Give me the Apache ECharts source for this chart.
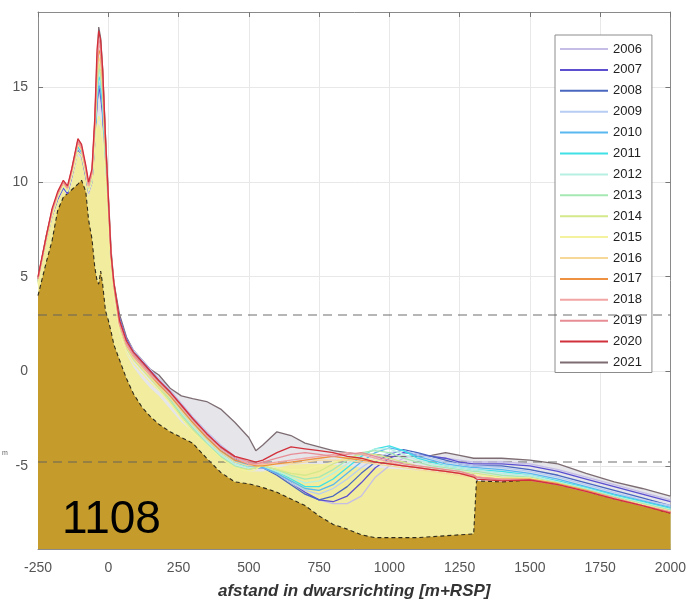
<!DOCTYPE html>
<html><head><meta charset="utf-8">
<script src="https://cdn.jsdelivr.net/npm/echarts@6/dist/echarts.min.js"></script>
<style>html,body{margin:0;padding:0;background:#fff}#c{width:689px;height:609px}</style>
</head><body><div id="c"></div>
<script>
// x positions (m+RSP) shared by all profiles
const xs = [-250,-220,-200,-180,-160,-145,-130,-108,-95,-80,-70,-58,-48,-40,-34,-27,-20,-10,0,10,20,
  40,65,90,120,150,180,220,260,300,350,400,450,500,525,
  550,600,650,700,750,800,850,900,950,1000,1050,1100,1150,1200,1250,1300,1310,
  1400,1500,1600,1700,1800,1900,2000];

const years = ['2006','2007','2008','2009','2010','2011','2012','2013','2014','2015','2016','2017','2018','2019','2020','2021'];
const yearColors = ['#c5bde6','#5b4fd0','#4a67c0','#b7cdf2','#5ab7ef','#3fe0e6','#b5f0e2','#a6e8b4','#d5e88a','#f4f29c','#f6d999','#ee9140','#f2a5a5','#e88d96','#d2303a','#7d6d72'];

const y2006 = [4.7,6.9,8.2,9.1,9.7,9.4,10.2,11.6,11.3,10.3,9.4,10.0,12.0,14.0,14.8,14.4,13.4,10.8,8.2,5.7,4.2,
  2.8,1.7,1.1,0.6,0.1,-0.4,-1.0,-1.7,-2.4,-3.2,-3.9,-4.5,-4.9,-5.0,
  -5.1,-5.4,-5.9,-6.4,-6.8,-7.0,-7.0,-6.6,-5.6,-5.0,-4.6,-4.4,-4.5,-4.6,-4.7,-4.8,-4.8,
  -4.8,-4.9,-5.2,-5.6,-6.0,-6.4,-6.8];
const y2007 = [4.8,7.0,8.2,9.1,9.7,9.4,10.3,11.7,11.4,10.3,9.5,10.0,12.1,14.2,15.0,14.6,13.6,11.0,8.3,5.7,4.3,
  2.8,1.7,1.0,0.5,0.0,-0.5,-1.1,-1.8,-2.5,-3.3,-4.0,-4.6,-5.0,-5.1,
  -5.1,-5.4,-5.9,-6.4,-6.8,-6.9,-6.6,-5.9,-5.1,-4.6,-4.3,-4.4,-4.5,-4.6,-4.8,-4.9,-4.9,
  -4.9,-5.0,-5.3,-5.7,-6.1,-6.5,-6.9];
const y2008 = [4.9,7.0,8.3,9.2,9.8,9.5,10.3,11.8,11.5,10.4,9.5,10.1,12.2,14.3,15.2,14.8,13.8,11.1,8.4,5.8,4.3,
  2.7,1.6,1.0,0.5,0.0,-0.5,-1.2,-1.9,-2.6,-3.4,-4.0,-4.6,-5.0,-5.1,
  -5.1,-5.5,-6.0,-6.5,-6.8,-6.6,-6.1,-5.4,-4.8,-4.4,-4.15,-4.3,-4.5,-4.7,-4.9,-5.0,-5.0,
  -5.0,-5.2,-5.5,-5.9,-6.3,-6.7,-7.1];
const y2009 = [4.8,7.0,8.3,9.2,9.8,9.5,10.4,11.8,11.5,10.4,9.5,10.1,12.3,14.5,15.3,15.0,14.0,11.2,8.5,5.8,4.3,
  2.7,1.6,1.0,0.4,-0.1,-0.6,-1.2,-1.9,-2.6,-3.4,-4.1,-4.7,-5.0,-5.1,
  -5.1,-5.4,-5.9,-6.3,-6.5,-6.2,-5.7,-5.1,-4.6,-4.3,-4.2,-4.4,-4.6,-4.8,-4.9,-5.0,-5.0,
  -5.1,-5.3,-5.6,-6.0,-6.4,-6.8,-7.1];
const y2010 = [4.9,7.1,8.3,9.2,9.8,9.5,10.4,11.9,11.6,10.5,9.6,10.2,12.3,14.4,15.1,14.9,14.0,11.2,8.5,5.8,4.4,
  2.6,1.5,0.9,0.4,-0.1,-0.6,-1.3,-2.0,-2.7,-3.5,-4.2,-4.7,-5.0,-5.1,
  -5.1,-5.4,-5.8,-6.2,-6.3,-6.0,-5.4,-4.8,-4.3,-4.05,-4.2,-4.5,-4.7,-4.9,-5.0,-5.1,-5.1,
  -5.2,-5.4,-5.7,-6.1,-6.5,-6.85,-7.2];
const y2011 = [4.8,7.0,8.3,9.3,9.8,9.5,10.4,11.9,11.6,10.5,9.6,10.2,12.4,14.8,15.6,15.3,14.3,11.4,8.6,5.9,4.3,
  2.6,1.5,0.9,0.3,-0.2,-0.7,-1.4,-2.1,-2.8,-3.6,-4.3,-4.8,-5.1,-5.1,
  -5.0,-5.3,-5.7,-6.1,-6.1,-5.7,-5.1,-4.5,-4.1,-3.95,-4.2,-4.6,-4.8,-5.0,-5.1,-5.2,-5.2,
  -5.3,-5.5,-5.8,-6.15,-6.55,-6.9,-7.25];
const y2012 = [4.8,7.0,8.4,9.3,9.9,9.6,10.5,12.0,11.7,10.6,9.7,10.3,12.5,15.0,15.9,15.5,14.5,11.5,8.7,5.9,4.4,
  2.5,1.4,0.8,0.3,-0.2,-0.7,-1.4,-2.2,-2.9,-3.7,-4.4,-4.9,-5.1,-5.1,
  -5.0,-5.3,-5.6,-5.9,-5.8,-5.4,-4.9,-4.4,-4.1,-4.1,-4.4,-4.7,-4.9,-5.0,-5.1,-5.2,-5.2,
  -5.4,-5.5,-5.85,-6.2,-6.6,-6.95,-7.3];
const y2013 = [4.8,7.1,8.4,9.3,9.9,9.6,10.5,12.0,11.7,10.6,9.7,10.3,12.6,15.2,16.1,15.7,14.7,11.6,8.7,6.0,4.4,
  2.4,1.3,0.7,0.2,-0.3,-0.8,-1.5,-2.3,-3.0,-3.8,-4.5,-5.0,-5.2,-5.1,
  -5.0,-5.2,-5.5,-5.7,-5.6,-5.2,-4.7,-4.3,-4.2,-4.3,-4.6,-4.8,-5.0,-5.1,-5.2,-5.3,-5.3,
  -5.5,-5.6,-5.9,-6.25,-6.65,-7.0,-7.35];
const y2014 = [4.7,7.0,8.3,9.3,9.9,9.6,10.5,12.0,11.7,10.6,9.7,10.3,12.6,15.3,16.3,15.9,14.8,11.7,8.8,6.0,4.4,
  2.3,1.2,0.6,0.1,-0.4,-0.9,-1.6,-2.4,-3.1,-3.9,-4.6,-5.1,-5.2,-5.1,
  -5.0,-5.2,-5.4,-5.5,-5.3,-4.9,-4.6,-4.4,-4.4,-4.6,-4.8,-5.0,-5.1,-5.2,-5.3,-5.4,-5.4,
  -5.6,-5.65,-5.9,-6.3,-6.7,-7.05,-7.4];
const y2015 = [4.6,6.9,8.2,9.2,9.8,9.5,10.3,11.6,11.4,10.4,9.5,10.0,11.9,13.0,13.5,13.2,12.5,10.2,7.6,5.3,4.0,
  2.1,1.0,0.4,-0.1,-0.6,-1.0,-1.7,-2.5,-3.2,-3.9,-4.6,-5.1,-5.3,-5.2,
  -4.9,-5.1,-5.2,-5.2,-5.0,-4.8,-4.6,-4.6,-4.7,-4.8,-5.0,-5.1,-5.2,-5.3,-5.4,-5.5,-5.5,
  -5.65,-5.65,-5.95,-6.3,-6.7,-7.05,-7.4];
const y2016 = [4.8,7.1,8.4,9.3,9.9,9.6,10.5,12.0,11.7,10.6,9.7,10.4,12.8,15.6,16.6,16.3,15.1,11.9,8.9,6.0,4.5,
  2.4,1.3,0.7,0.2,-0.3,-0.8,-1.4,-2.1,-2.8,-3.6,-4.3,-4.8,-5.0,-5.0,
  -4.9,-4.9,-4.9,-4.8,-4.7,-4.7,-4.7,-4.8,-4.9,-5.0,-5.1,-5.2,-5.3,-5.4,-5.5,-5.6,-5.6,
  -5.7,-5.7,-5.95,-6.3,-6.7,-7.05,-7.4];
const y2017 = [4.9,7.1,8.5,9.4,10.0,9.7,10.6,12.1,11.8,10.7,9.8,10.5,13.0,16.0,17.0,16.7,15.4,12.0,9.0,6.1,4.5,
  2.5,1.4,0.8,0.3,-0.2,-0.7,-1.3,-2.0,-2.7,-3.5,-4.2,-4.7,-4.9,-5.0,
  -5.0,-4.9,-4.8,-4.7,-4.6,-4.5,-4.6,-4.7,-4.8,-4.9,-5.0,-5.1,-5.2,-5.3,-5.4,-5.5,-5.6,
  -5.7,-5.7,-5.95,-6.3,-6.7,-7.1,-7.45];
const y2018 = [4.9,7.1,8.5,9.4,10.0,9.7,10.6,12.1,11.8,10.7,9.8,10.5,13.1,16.3,17.3,17.0,15.6,12.1,9.1,6.1,4.6,
  2.5,1.4,0.8,0.3,-0.2,-0.6,-1.2,-1.9,-2.6,-3.4,-4.1,-4.6,-4.9,-4.9,
  -4.9,-4.8,-4.7,-4.6,-4.5,-4.4,-4.3,-4.4,-4.6,-4.8,-5.0,-5.1,-5.2,-5.3,-5.4,-5.5,-5.6,
  -5.7,-5.75,-6.0,-6.35,-6.7,-7.1,-7.45];
const y2019 = [4.9,7.2,8.5,9.4,10.0,9.7,10.7,12.2,11.9,10.8,9.9,10.6,13.2,16.6,17.6,17.2,15.8,12.2,9.2,6.2,4.6,
  2.6,1.5,0.9,0.4,-0.1,-0.5,-1.1,-1.8,-2.5,-3.3,-4.0,-4.5,-4.8,-4.9,
  -4.8,-4.6,-4.4,-4.3,-4.4,-4.5,-4.4,-4.3,-4.5,-4.7,-4.9,-5.0,-5.1,-5.2,-5.3,-5.5,-5.6,
  -5.75,-5.75,-6.0,-6.35,-6.75,-7.1,-7.45];
const y2020 = [5.0,7.2,8.6,9.5,10.1,9.8,10.7,12.3,12.0,10.9,10.0,10.7,13.4,17.0,18.0,17.5,16.0,12.4,9.3,6.2,4.7,
  2.7,1.6,1.0,0.5,0.0,-0.5,-1.1,-1.8,-2.5,-3.3,-4.0,-4.5,-4.7,-4.8,
  -4.7,-4.3,-4.0,-4.1,-4.2,-4.3,-4.5,-4.6,-4.8,-4.9,-5.0,-5.1,-5.2,-5.3,-5.4,-5.6,-5.7,
  -5.8,-5.75,-6.0,-6.35,-6.75,-7.1,-7.5];
const y2021 = [4.9,7.2,8.5,9.3,9.9,9.6,10.6,12.2,11.8,10.7,9.8,10.4,12.9,15.6,18.2,17.6,16.0,12.5,9.4,6.4,4.7,
  3.0,1.8,1.1,0.6,0.1,-0.2,-0.9,-1.3,-1.45,-1.6,-2.0,-2.7,-3.5,-4.2,
  -3.9,-3.2,-3.4,-3.8,-4.0,-4.2,-4.3,-4.4,-4.4,-4.5,-4.5,-4.5,-4.45,-4.3,-4.45,-4.6,-4.6,
  -4.6,-4.7,-4.9,-5.4,-5.85,-6.2,-6.6];

// lowest (golden) profile and upper edge of the light-yellow zone
const golden = [4.0,5.8,6.9,8.5,9.2,9.4,9.6,9.9,10.1,9.5,8.0,7.0,5.5,4.8,4.6,5.3,4.6,3.2,2.7,2.1,1.4,
  0.6,-0.4,-1.2,-1.9,-2.4,-2.8,-3.2,-3.5,-3.8,-4.6,-5.35,-5.85,-5.95,-6.05,
  -6.15,-6.4,-6.75,-7.1,-7.65,-8.1,-8.35,-8.65,-8.8,-8.8,-8.8,-8.8,-8.75,-8.7,-8.65,-8.6,-5.8,
  -5.85,-5.75,-6.0,-6.35,-6.75,-7.1,-7.5];
const yellowTop = [4.6,6.8,8.0,9.0,9.6,9.3,10.0,11.4,11.2,10.2,9.3,9.8,11.5,12.8,13.1,12.8,12.0,9.8,7.3,5.0,3.7,
  2.0,0.9,0.2,-0.4,-0.9,-1.3,-2.0,-2.7,-3.2,-3.9,-4.5,-5.0,-5.3,-5.3,
  -5.3,-5.1,-4.95,-4.9,-4.9,-4.95,-5.0,-5.1,-5.1,-5.15,-5.2,-5.25,-5.3,-5.35,-5.45,-5.6,-5.8,
  -5.85,-5.75,-6.0,-6.35,-6.75,-7.1,-7.5];

const refLevels = [3, -4.8];
const yTicks = [-5, 0, 5, 10, 15];
const yearValues = [y2006,y2007,y2008,y2009,y2010,y2011,y2012,y2013,y2014,y2015,y2016,y2017,y2018,y2019,y2020,y2021];

const pts = arr => xs.map((x, i) => [x, arr[i]]);
const FONT = '"Liberation Sans", Arial, sans-serif';

const series = [];
series.push({
  name: '2021', type: 'line', data: pts(y2021), symbol: 'none', z: 2,
  lineStyle: {color: yearColors[15], width: 1.3},
  itemStyle: {color: yearColors[15]},
  areaStyle: {color: '#e5e5ea', opacity: 1, origin: 'start'}
});
series.push({
  name: 'zone', type: 'line', data: pts(yellowTop), symbol: 'none', z: 3,
  lineStyle: {width: 0, opacity: 0},
  areaStyle: {color: '#f1ec9e', opacity: 1, origin: 'start'}
});
series.push({
  name: 'base', type: 'line', data: pts(golden), symbol: 'none', z: 4,
  lineStyle: {color: '#2e2a1c', width: 1.1, type: [4, 3]},
  areaStyle: {color: '#c59c2c', opacity: 1, origin: 'start'},
  markLine: {
    silent: true, symbol: 'none', label: {show: false},
    lineStyle: {color: 'rgba(95,95,95,0.6)', width: 1.5, type: [9, 6]},
    data: refLevels.map(v => ({yAxis: v}))
  }
});
for (let k = 0; k < 15; k++) {
  series.push({
    name: years[k], type: 'line', data: pts(yearValues[k]), symbol: 'none', z: 5,
    lineStyle: {color: yearColors[k], width: 1.3},
    itemStyle: {color: yearColors[k]}
  });
}

const axisLineStyle = {show: true, onZero: false, lineStyle: {color: '#8a8a8a'}};
const chart = echarts.init(document.getElementById('c'));
chart.setOption({
  animation: false,
  backgroundColor: '#fff',
  grid: {left: 38, right: 16, top: 12, bottom: 60},
  xAxis: [{
    type: 'value', min: -250, max: 2000, interval: 250, position: 'bottom',
    axisLine: axisLineStyle,
    axisTick: {inside: true, length: 5, lineStyle: {color: '#777'}},
    axisLabel: {color: '#555', fontSize: 14, margin: 12, fontFamily: FONT, formatter: v => String(v)},
    splitLine: {show: true, lineStyle: {color: '#e8e8e8'}},
    name: 'afstand in dwarsrichting [m+RSP]', nameLocation: 'middle', nameGap: 34,
    nameTextStyle: {fontWeight: 'bold', fontStyle: 'italic', fontSize: 17, color: '#333', fontFamily: FONT}
  }, {
    type: 'value', min: -250, max: 2000, interval: 250, position: 'top',
    axisLine: axisLineStyle,
    axisTick: {inside: true, length: 5, lineStyle: {color: '#777'}},
    axisLabel: {show: false}, splitLine: {show: false}
  }],
  yAxis: [{
    type: 'value', min: -9.4, max: 19, position: 'left',
    axisLine: axisLineStyle,
    axisTick: {show: true, inside: true, length: 5, customValues: yTicks, lineStyle: {color: '#777'}},
    axisLabel: {color: '#555', fontSize: 14, margin: 10, fontFamily: FONT, customValues: yTicks},
    splitLine: {show: true, lineStyle: {color: '#e8e8e8'}}
  }, {
    type: 'value', min: -9.4, max: 19, position: 'right',
    axisLine: axisLineStyle,
    axisTick: {show: true, inside: true, length: 5, customValues: yTicks, lineStyle: {color: '#777'}},
    axisLabel: {show: false, customValues: yTicks}, splitLine: {show: false}
  }],
  legend: {
    data: years, orient: 'vertical', left: 555, top: 35,
    icon: 'rect', itemWidth: 48, itemHeight: 2, itemGap: 6.9, itemTextGap: 4,
    padding: [7, 10, 3, 5], backgroundColor: '#fff',
    borderColor: '#8c8c8c', borderWidth: 1, selectedMode: false,
    textStyle: {fontSize: 13, lineHeight: 14, color: '#222', fontFamily: FONT}
  },
  graphic: [
    {type: 'text', left: 62, top: 497, z: 100,
     style: {text: '1108', font: '46px "Liberation Sans", Arial, sans-serif', fill: '#000'}},
    {type: 'text', left: 2, top: 450, z: 100,
     style: {text: 'm', font: '7px "Liberation Sans", Arial, sans-serif', fill: '#666'}}
  ],
  series: series
});
</script>
</body></html>
